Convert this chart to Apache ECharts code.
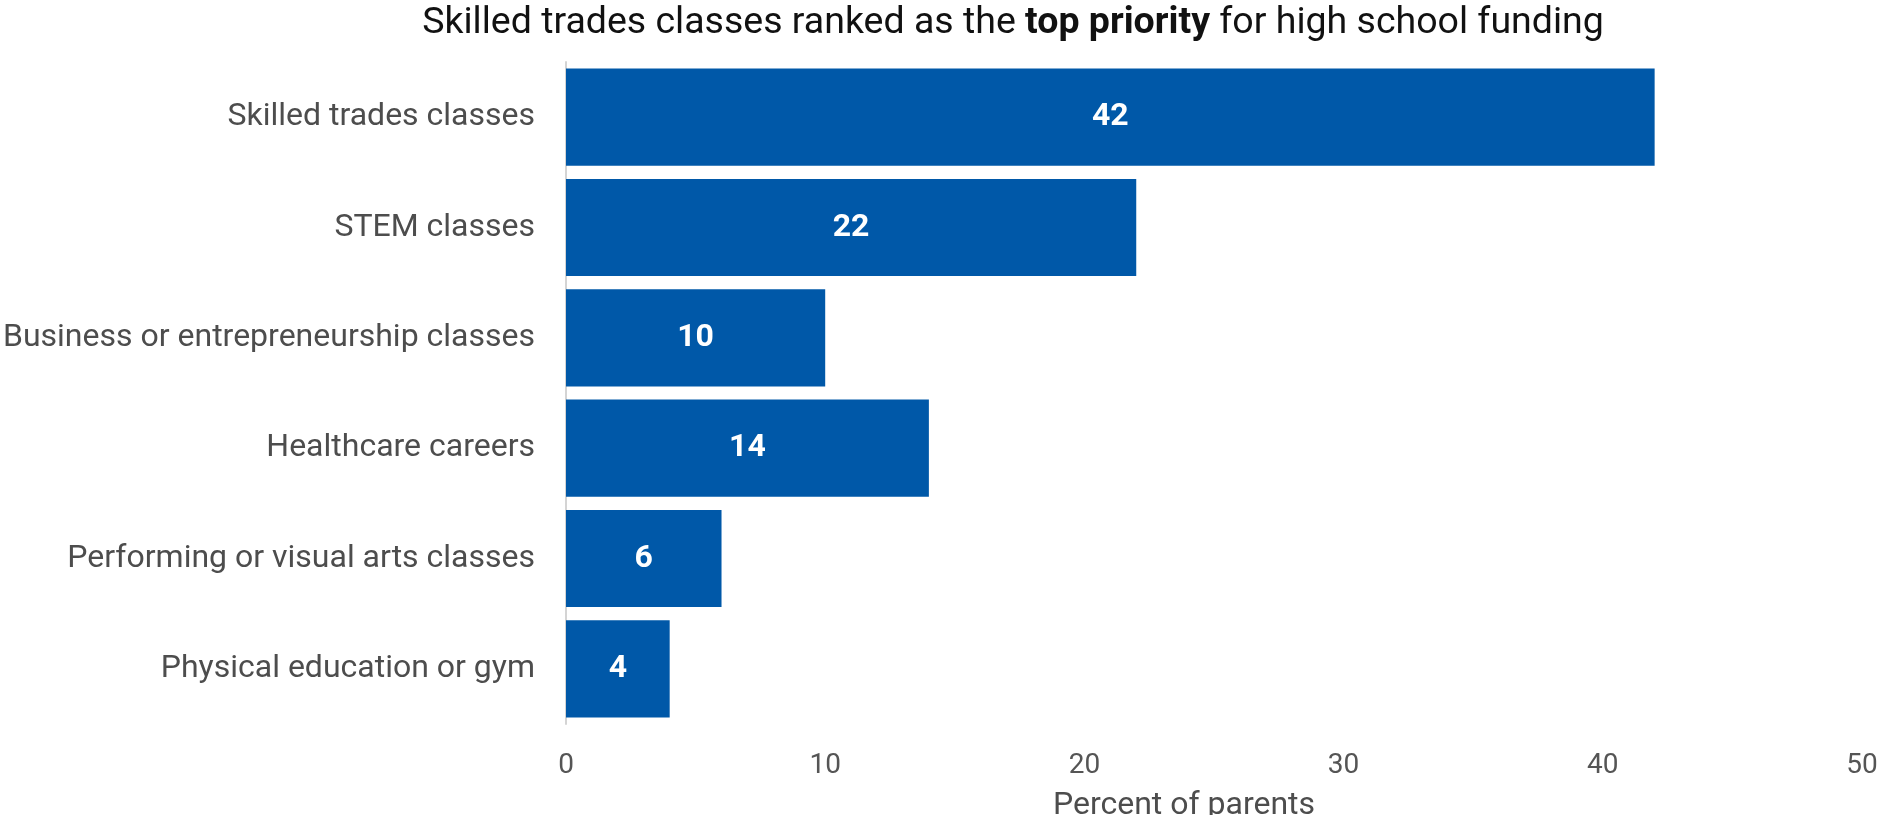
<!DOCTYPE html>
<html>
<head>
<meta charset="utf-8">
<script src="https://cdn.jsdelivr.net/npm/echarts@6/dist/echarts.min.js"></script>
<style>
  html, body { margin: 0; padding: 0; background: #fff; }
  #chart { width: 1878px; height: 815px; }
</style>
</head>
<body>
<div id="chart"></div>
<script>
// Funding priorities, listed top to bottom
const categories = [
  'Skilled trades classes',
  'STEM classes',
  'Business or entrepreneurship classes',
  'Healthcare careers',
  'Performing or visual arts classes',
  'Physical education or gym'
];
const percentValues = [42, 22, 10, 14, 6, 4];
const xTicks = [0, 10, 20, 30, 40, 50];

const chart = echarts.init(document.getElementById('chart'), null, { renderer: 'canvas' });

const FONT = 'Roboto';

chart.setOption({
  animation: false,
  backgroundColor: '#ffffff',
  textStyle: { fontFamily: FONT },
  title: {
    text: '{n|Skilled trades classes ranked as the }{b|top priority}{n| for high school funding}',
    left: 1013,
    top: 5,
    textAlign: 'center',
    padding: 0,
    textStyle: {
      rich: {
        n: { fontFamily: FONT, fontSize: 37.5, color: '#111111', fontWeight: 'normal' },
        b: { fontFamily: FONT, fontSize: 37.5, color: '#111111', fontWeight: 'bold' }
      }
    }
  },
  grid: {
    left: 566,
    right: 16,
    top: 62,
    bottom: 91,
    containLabel: false,
    outerBoundsMode: 'none'
  },
  xAxis: {
    type: 'value',
    min: xTicks[0],
    max: xTicks[xTicks.length - 1],
    interval: xTicks[1] - xTicks[0],
    name: 'Percent of parents',
    nameLocation: 'middle',
    nameGap: 66,
    nameTextStyle: {
      fontFamily: FONT,
      fontSize: 32,
      color: '#4d4d4d',
      padding: [0, 60, 0, 0]
    },
    axisLine: { show: false },
    axisTick: { show: false },
    splitLine: { show: false },
    axisLabel: {
      fontFamily: FONT,
      fontSize: 28,
      color: '#555555',
      margin: 28
    }
  },
  yAxis: {
    type: 'category',
    data: categories,
    inverse: true,
    axisLine: { show: true, lineStyle: { color: '#d4d4d4', width: 2 } },
    axisTick: { show: false },
    splitLine: { show: false },
    axisLabel: {
      fontFamily: FONT,
      fontSize: 32,
      color: '#4d4d4d',
      margin: 31,
      padding: [9, 0, 0, 0]
    }
  },
  series: [{
    type: 'bar',
    data: percentValues,
    barCategoryGap: '12%',
    itemStyle: { color: '#0058a8' },
    label: {
      show: true,
      position: 'inside',
      fontFamily: FONT,
      fontSize: 32,
      fontWeight: 'bold',
      color: '#ffffff',
      padding: [9, 0, 0, 0]
    }
  }]
});
</script>
</body>
</html>
